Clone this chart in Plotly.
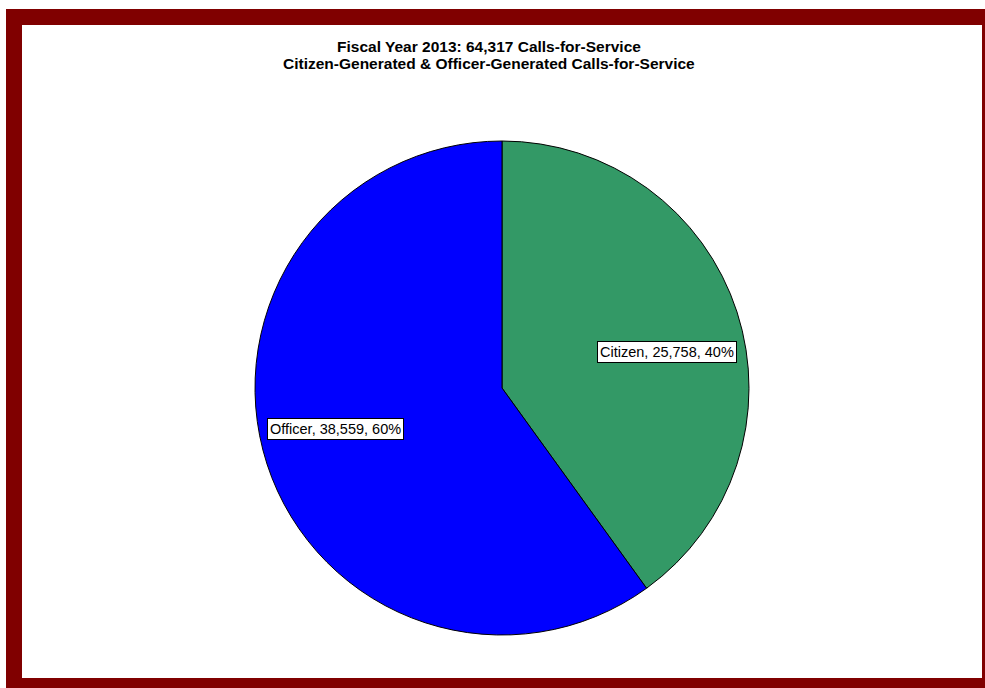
import plotly.graph_objects as go

W, H = 985, 688

labels = ["Citizen", "Officer"]
values = [25758, 38559]
colors = ["#339966", "#0000FF"]
title_lines = ["Fiscal Year 2013: 64,317 Calls-for-Service",
               "Citizen-Generated & Officer-Generated Calls-for-Service"]
title_y = [46, 63]
# label box centres (pixels)
label_pos = [(667, 352), (335, 429)]

total = sum(values)
pcts = [round(v * 100 / total) for v in values]

cx, cy, r = 502, 388, 247

fig = go.Figure(go.Pie(
    labels=labels, values=values, sort=False, direction="clockwise", rotation=0,
    marker=dict(colors=colors, line=dict(color="black", width=1)),
    textinfo="none", hoverinfo="label+value+percent",
    domain=dict(x=[(cx - r) / W, (cx + r) / W], y=[(H - cy - r) / H, (H - cy + r) / H]),
))

shapes = [
    dict(type="rect", xref="paper", yref="paper", x0=6 / W, x1=1.01, y0=-0.01, y1=1 - 9 / H,
         fillcolor="#800000", line=dict(width=0), layer="below"),
    dict(type="rect", xref="paper", yref="paper", x0=22 / W, x1=982 / W, y0=1 - 678 / H, y1=1 - 25 / H,
         fillcolor="white", line=dict(width=0), layer="below"),
]

annotations = []
for line, ty in zip(title_lines, title_y):
    annotations.append(dict(
        text="<b>" + line + "</b>", xref="paper", yref="paper",
        x=489 / W, y=1 - ty / H, xanchor="center", yanchor="middle", showarrow=False,
        font=dict(family="Liberation Sans", size=15.5, color="black"),
    ))
for lab, v, p, (px, py) in zip(labels, values, pcts, label_pos):
    annotations.append(dict(
        text=f"{lab}, {v:,}, {p}%", xref="paper", yref="paper",
        x=px / W, y=1 - py / H, xanchor="center", yanchor="middle", showarrow=False,
        bgcolor="white", bordercolor="black", borderwidth=1, borderpad=2,
        font=dict(family="Liberation Sans", size=14.5, color="black"),
    ))

fig.update_layout(
    width=W, height=H, margin=dict(l=0, r=0, t=0, b=0),
    paper_bgcolor="white", showlegend=False,
    shapes=shapes, annotations=annotations,
)
fig.write_html("out.html")
